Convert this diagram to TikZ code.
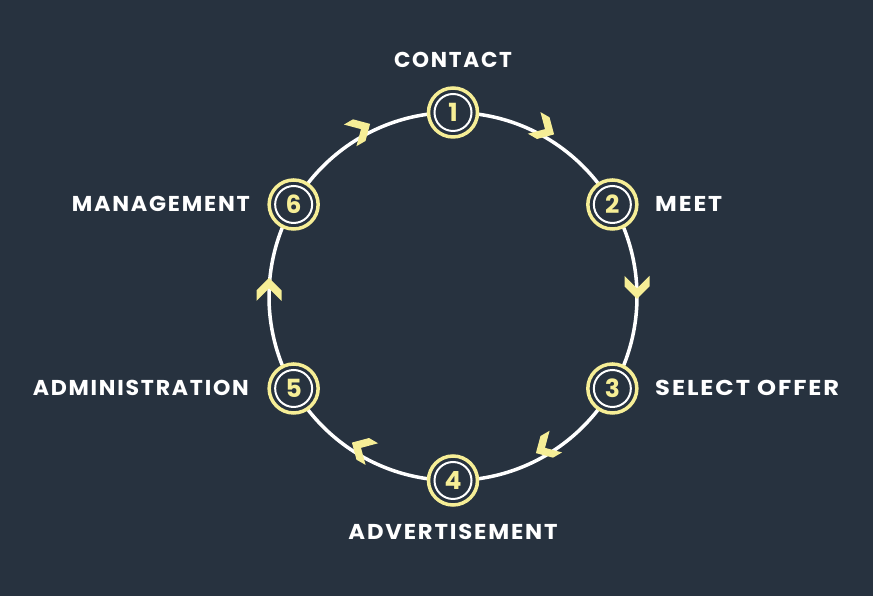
\documentclass[tikz,border=0pt]{standalone}
\usepackage{fontspec}
\usepackage{graphicx}
\setmainfont{Poppins}
\newfontfamily\lblfont[LetterSpace=8]{Poppins}
\usetikzlibrary{calc}
\definecolor{bg}{HTML}{27323F}
\definecolor{yel}{HTML}{F6EE96}
\newcommand{\wlbl}[2]{\resizebox{#1pt}{\height}{#2}}
\begin{document}
\begin{tikzpicture}[x=1pt,y=1pt,
  stage/.style={circle, draw=yel, line width=3.5pt, fill=bg, minimum size=49pt, inner sep=0pt,
    font=\fontsize{25}{25}\selectfont\bfseries, text=yel,
    path picture={\draw[white, line width=2pt] (path picture bounding box.center) circle (18.5pt);}},
  lbl/.style={text=white, font=\lblfont\fontsize{21.5}{22}\selectfont\bfseries, inner sep=0pt},
  chev/.style={fill=yel, draw=none}]
\fill[bg] (0,0) rectangle (873,596);
\useasboundingbox (0,0) rectangle (873,596);
\coordinate (c) at (453,299.5);
\draw[white, line width=3.5pt] (c) circle (184pt);
\foreach \a in {60,0,-60,-120,180,120}{
  \fill[chev, shift={($(c)+(\a:184pt)+(0,8)$)}, rotate=\a-180]
    (0,10.5) -- (12.5,-2) -- (12.5,-12.5) -- (0,0) -- (-12.5,-12.5) -- (-12.5,-2) -- cycle;
}
\node[stage] (n1) at ($(c)+(90:184pt)$) {1};
\node[stage] (n2) at ($(c)+(30:184pt)$) {2};
\node[stage] (n3) at ($(c)+(-30:184pt)$) {3};
\node[stage] (n4) at ($(c)+(-90:184pt)$) {4};
\node[stage] (n5) at ($(c)+(-150:184pt)$) {5};
\node[stage] (n6) at ($(c)+(150:184pt)$) {6};
\node[lbl] (l1) at (453,536) {\wlbl{118}{CONTACT}};
\node[lbl, anchor=west] (l2) at (655,392) {\wlbl{67}{MEET}};
\node[lbl, anchor=west] (l3) at (655,208) {\wlbl{184}{SELECT OFFER}};
\node[lbl] (l4) at (453,64) {\wlbl{209}{ADVERTISEMENT}};
\node[lbl, anchor=east] (l5) at (249,208) {\wlbl{216}{ADMINISTRATION}};
\node[lbl, anchor=east] (l6) at (250,392) {\wlbl{178}{MANAGEMENT}};
\end{tikzpicture}
\end{document}
